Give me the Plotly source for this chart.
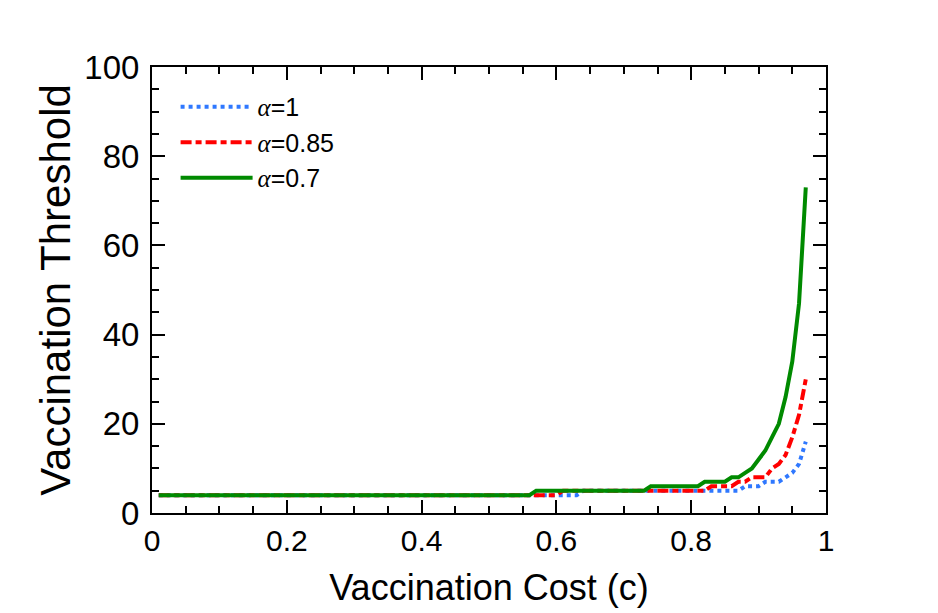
import plotly.graph_objects as go

# Data
c_a1 = [0.01, 0.63, 0.64, 0.87, 0.88, 0.90, 0.91, 0.93, 0.94, 0.95, 0.96, 0.97]
v_a1 = [4, 4, 5, 5, 6, 6, 7, 7, 8, 9, 11, 16]

c_a085 = [0.01, 0.60, 0.61, 0.82, 0.83, 0.86, 0.87, 0.88, 0.89, 0.91, 0.92, 0.93,
          0.94, 0.95, 0.96, 0.97]
v_a085 = [4, 4, 5, 5, 6, 6, 7, 7, 8, 8, 10, 11, 13, 17, 22, 30]

c_a07 = [0.01, 0.56, 0.57, 0.73, 0.74, 0.81, 0.82, 0.85, 0.86, 0.87, 0.88, 0.89,
         0.90, 0.91, 0.92, 0.93, 0.94, 0.95, 0.96, 0.97]
v_a07 = [4, 4, 5, 5, 6, 6, 7, 7, 8, 8, 9, 10, 12, 14, 17, 20, 26, 34, 47, 73]

names = ["<span style='font-family:Liberation Serif'><i>α</i></span>=1",
         "<span style='font-family:Liberation Serif'><i>α</i></span>=0.85",
         "<span style='font-family:Liberation Serif'><i>α</i></span>=0.7"]

FONT = "Liberation Sans, Arial, Helvetica, sans-serif"

fig = go.Figure()
fig.add_trace(go.Scatter(x=c_a1, y=v_a1, mode="lines", name=names[0],
                         line=dict(color="#2f78ff", width=4, dash="dot")))
fig.add_trace(go.Scatter(x=c_a085, y=v_a085, mode="lines", name=names[1],
                         line=dict(color="#ff0000", width=4, dash="11px,4px,6px,4px")))
fig.add_trace(go.Scatter(x=c_a07, y=v_a07, mode="lines", name=names[2],
                         line=dict(color="#008a00", width=4)))

axis_common = dict(
    showgrid=False, zeroline=False, showline=True, linecolor="black", linewidth=2,
    mirror="ticks", ticks="inside", tickcolor="black", tickwidth=2, ticklen=13,
)

fig.update_layout(
    width=938, height=613,
    margin=dict(l=152, r=112, t=67, b=98),
    paper_bgcolor="white", plot_bgcolor="white",
    font=dict(family=FONT, color="black"),
    showlegend=True,
    legend=dict(x=0.035, y=0.962, xanchor="left", yanchor="top",
                bgcolor="rgba(0,0,0,0)", borderwidth=0,
                font=dict(size=25, family=FONT), itemwidth=72,
                tracegroupgap=0),
    xaxis=dict(range=[0, 1], dtick=0.2, tick0=0,
               tickfont=dict(size=30, family=FONT),
               title=dict(text="Vaccination Cost (c)", font=dict(size=36, family=FONT), standoff=19),
               minor=dict(dtick=0.05, ticks="inside", ticklen=7, tickwidth=1.5, tickcolor="black"),
               **axis_common),
    yaxis=dict(range=[0, 100], dtick=20, tick0=0,
               tickfont=dict(size=33, family=FONT), ticklabelstandoff=4,
               title=dict(text="Vaccination Threshold", font=dict(size=42, family=FONT), standoff=1),
               minor=dict(dtick=5, ticks="inside", ticklen=7, tickwidth=1.5, tickcolor="black"),
               **axis_common),
)

fig.write_html("out.html")
